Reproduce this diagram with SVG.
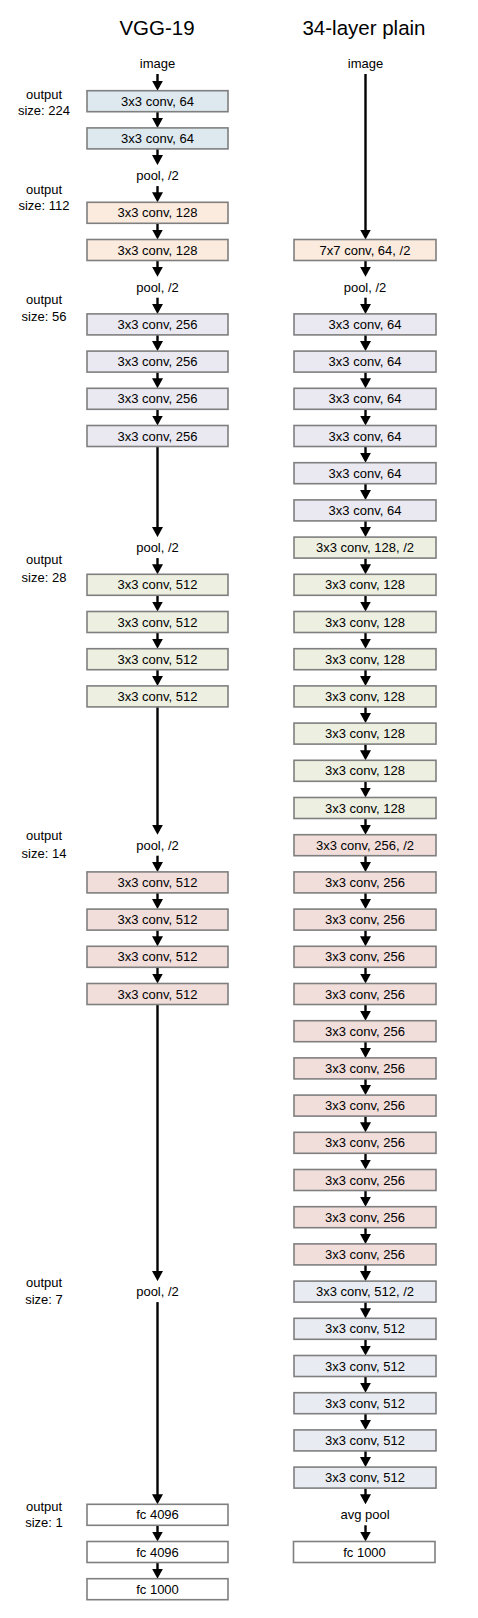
<svg xmlns="http://www.w3.org/2000/svg" width="478" height="1618" viewBox="0 0 478 1618">
<style>
text{font-family:"Liberation Sans",Arial,sans-serif;fill:#000;}
.t{font-size:13px;text-anchor:middle;}
.h{font-size:20.5px;text-anchor:middle;}
.o{font-size:13px;text-anchor:middle;}
.n rect{stroke:#7f7f7f;stroke-width:1.6;}
.b{fill:#dde9ef}.p{fill:#fbebdf}.l{fill:#eae8f0}.g{fill:#edf0e1}.r{fill:#f1dedb}.s{fill:#e8ecf2}.w{fill:#fff}
.c line{stroke:#000;stroke-width:2.4;marker-end:url(#ah);}
</style>
<defs>
<marker id="ah" markerUnits="userSpaceOnUse" viewBox="0 0 10 11" markerWidth="10" markerHeight="11" refX="2" refY="5.5" orient="auto">
<path d="M0,0 L10,5.5 L0,11 z" fill="#000"/>
</marker>
</defs>
<rect width="478" height="1618" fill="#fff"/>
<g id="titles">
<text class="h" x="157" y="35">VGG-19</text>
<text class="h" x="364" y="35">34-layer plain</text>
</g>
<g id="sizes">
<text class="o" x="44" y="98.5">output</text><text class="o" x="44" y="115.3">size: 224</text>
<text class="o" x="44" y="193.5">output</text><text class="o" x="44" y="210">size: 112</text>
<text class="o" x="44" y="304.3">output</text><text class="o" x="44" y="321">size: 56</text>
<text class="o" x="44" y="564.3">output</text><text class="o" x="44" y="581.7">size: 28</text>
<text class="o" x="44" y="840">output</text><text class="o" x="44" y="857.7">size: 14</text>
<text class="o" x="44" y="1287.3">output</text><text class="o" x="44" y="1304.3">size: 7</text>
<text class="o" x="44" y="1510.7">output</text><text class="o" x="44" y="1526.7">size: 1</text>
</g>
<g id="connectors" class="c">
<line x1="157.5" y1="74" x2="157.5" y2="82.7"/>
<line x1="157.5" y1="111.7" x2="157.5" y2="119.9"/>
<line x1="157.5" y1="148.9" x2="157.5" y2="157.1"/>
<line x1="157.5" y1="186.1" x2="157.5" y2="194.3"/>
<line x1="157.5" y1="223.3" x2="157.5" y2="231.5"/>
<line x1="157.5" y1="260.5" x2="157.5" y2="268.7"/>
<line x1="157.5" y1="297.7" x2="157.5" y2="305.9"/>
<line x1="157.5" y1="334.9" x2="157.5" y2="343.1"/>
<line x1="157.5" y1="372.1" x2="157.5" y2="380.3"/>
<line x1="157.5" y1="409.3" x2="157.5" y2="417.5"/>
<line x1="157.5" y1="446.5" x2="157.5" y2="529.1"/>
<line x1="157.5" y1="558.1" x2="157.5" y2="566.3"/>
<line x1="157.5" y1="595.3" x2="157.5" y2="603.5"/>
<line x1="157.5" y1="632.5" x2="157.5" y2="640.7"/>
<line x1="157.5" y1="669.7" x2="157.5" y2="677.9"/>
<line x1="157.5" y1="706.9" x2="157.5" y2="826.7"/>
<line x1="157.5" y1="855.7" x2="157.5" y2="863.9"/>
<line x1="157.5" y1="892.9" x2="157.5" y2="901.1"/>
<line x1="157.5" y1="930.1" x2="157.5" y2="938.3"/>
<line x1="157.5" y1="967.3" x2="157.5" y2="975.5"/>
<line x1="157.5" y1="1004.5" x2="157.5" y2="1273.1"/>
<line x1="157.5" y1="1302.1" x2="157.5" y2="1496.3"/>
<line x1="157.5" y1="1525.3" x2="157.5" y2="1533.5"/>
<line x1="157.5" y1="1562.5" x2="157.5" y2="1570.7"/>
<line x1="365.5" y1="74" x2="365.5" y2="231.5"/>
<line x1="365.5" y1="260.5" x2="365.5" y2="268.7"/>
<line x1="365.5" y1="297.7" x2="365.5" y2="305.9"/>
<line x1="365.5" y1="334.9" x2="365.5" y2="343.1"/>
<line x1="365.5" y1="372.1" x2="365.5" y2="380.3"/>
<line x1="365.5" y1="409.3" x2="365.5" y2="417.5"/>
<line x1="365.5" y1="446.5" x2="365.5" y2="454.7"/>
<line x1="365.5" y1="483.7" x2="365.5" y2="491.9"/>
<line x1="365.5" y1="520.9" x2="365.5" y2="529.1"/>
<line x1="365.5" y1="558.1" x2="365.5" y2="566.3"/>
<line x1="365.5" y1="595.3" x2="365.5" y2="603.5"/>
<line x1="365.5" y1="632.5" x2="365.5" y2="640.7"/>
<line x1="365.5" y1="669.7" x2="365.5" y2="677.9"/>
<line x1="365.5" y1="706.9" x2="365.5" y2="715.1"/>
<line x1="365.5" y1="744.1" x2="365.5" y2="752.3"/>
<line x1="365.5" y1="781.3" x2="365.5" y2="789.5"/>
<line x1="365.5" y1="818.5" x2="365.5" y2="826.7"/>
<line x1="365.5" y1="855.7" x2="365.5" y2="863.9"/>
<line x1="365.5" y1="892.9" x2="365.5" y2="901.1"/>
<line x1="365.5" y1="930.1" x2="365.5" y2="938.3"/>
<line x1="365.5" y1="967.3" x2="365.5" y2="975.5"/>
<line x1="365.5" y1="1004.5" x2="365.5" y2="1012.7"/>
<line x1="365.5" y1="1041.7" x2="365.5" y2="1049.9"/>
<line x1="365.5" y1="1078.9" x2="365.5" y2="1087.1"/>
<line x1="365.5" y1="1116.1" x2="365.5" y2="1124.3"/>
<line x1="365.5" y1="1153.3" x2="365.5" y2="1161.5"/>
<line x1="365.5" y1="1190.5" x2="365.5" y2="1198.7"/>
<line x1="365.5" y1="1227.7" x2="365.5" y2="1235.9"/>
<line x1="365.5" y1="1264.9" x2="365.5" y2="1273.1"/>
<line x1="365.5" y1="1302.1" x2="365.5" y2="1310.3"/>
<line x1="365.5" y1="1339.3" x2="365.5" y2="1347.5"/>
<line x1="365.5" y1="1376.5" x2="365.5" y2="1384.7"/>
<line x1="365.5" y1="1413.7" x2="365.5" y2="1421.9"/>
<line x1="365.5" y1="1450.9" x2="365.5" y2="1459.1"/>
<line x1="365.5" y1="1488.1" x2="365.5" y2="1496.3"/>
<line x1="365.5" y1="1525.3" x2="365.5" y2="1533.5"/>
</g>
<g id="vgg" class="n">
<g id="v-image"><text class="t" x="157.5" y="68">image</text></g>
<g id="v1"><rect class="b" x="87" y="90.7" width="141" height="21"/><text class="t" x="157.5" y="105.7">3x3 conv, 64</text></g>
<g id="v2"><rect class="b" x="87" y="127.9" width="141" height="21"/><text class="t" x="157.5" y="142.9">3x3 conv, 64</text></g>
<g id="v-pool1"><text class="t" x="157.5" y="180.1">pool, /2</text></g>
<g id="v3"><rect class="p" x="87" y="202.3" width="141" height="21"/><text class="t" x="157.5" y="217.3">3x3 conv, 128</text></g>
<g id="v4"><rect class="p" x="87" y="239.5" width="141" height="21"/><text class="t" x="157.5" y="254.5">3x3 conv, 128</text></g>
<g id="v-pool2"><text class="t" x="157.5" y="291.7">pool, /2</text></g>
<g id="v5"><rect class="l" x="87" y="313.9" width="141" height="21"/><text class="t" x="157.5" y="328.9">3x3 conv, 256</text></g>
<g id="v6"><rect class="l" x="87" y="351.1" width="141" height="21"/><text class="t" x="157.5" y="366.1">3x3 conv, 256</text></g>
<g id="v7"><rect class="l" x="87" y="388.3" width="141" height="21"/><text class="t" x="157.5" y="403.3">3x3 conv, 256</text></g>
<g id="v8"><rect class="l" x="87" y="425.5" width="141" height="21"/><text class="t" x="157.5" y="440.5">3x3 conv, 256</text></g>
<g id="v-pool3"><text class="t" x="157.5" y="552.1">pool, /2</text></g>
<g id="v9"><rect class="g" x="87" y="574.3" width="141" height="21"/><text class="t" x="157.5" y="589.3">3x3 conv, 512</text></g>
<g id="v10"><rect class="g" x="87" y="611.5" width="141" height="21"/><text class="t" x="157.5" y="626.5">3x3 conv, 512</text></g>
<g id="v11"><rect class="g" x="87" y="648.7" width="141" height="21"/><text class="t" x="157.5" y="663.7">3x3 conv, 512</text></g>
<g id="v12"><rect class="g" x="87" y="685.9" width="141" height="21"/><text class="t" x="157.5" y="700.9">3x3 conv, 512</text></g>
<g id="v-pool4"><text class="t" x="157.5" y="849.7">pool, /2</text></g>
<g id="v13"><rect class="r" x="87" y="871.9" width="141" height="21"/><text class="t" x="157.5" y="886.9">3x3 conv, 512</text></g>
<g id="v14"><rect class="r" x="87" y="909.1" width="141" height="21"/><text class="t" x="157.5" y="924.1">3x3 conv, 512</text></g>
<g id="v15"><rect class="r" x="87" y="946.3" width="141" height="21"/><text class="t" x="157.5" y="961.3">3x3 conv, 512</text></g>
<g id="v16"><rect class="r" x="87" y="983.5" width="141" height="21"/><text class="t" x="157.5" y="998.5">3x3 conv, 512</text></g>
<g id="v-pool5"><text class="t" x="157.5" y="1296.1">pool, /2</text></g>
<g id="v-fc1"><rect class="w" x="87" y="1504.3" width="141" height="21"/><text class="t" x="157.5" y="1519.3">fc 4096</text></g>
<g id="v-fc2"><rect class="w" x="87" y="1541.5" width="141" height="21"/><text class="t" x="157.5" y="1556.5">fc 4096</text></g>
<g id="v-fc3"><rect class="w" x="87" y="1578.7" width="141" height="21"/><text class="t" x="157.5" y="1593.7">fc 1000</text></g>
</g>
<g id="plain" class="n">
<g id="p-image"><text class="t" x="365.5" y="68">image</text></g>
<g id="p0"><rect class="p" x="294" y="239.5" width="142" height="21"/><text class="t" x="365" y="254.5">7x7 conv, 64, /2</text></g>
<g id="p-pool"><text class="t" x="365" y="291.7">pool, /2</text></g>
<g id="p1"><rect class="l" x="294" y="313.9" width="142" height="21"/><text class="t" x="365" y="328.9">3x3 conv, 64</text></g>
<g id="p2"><rect class="l" x="294" y="351.1" width="142" height="21"/><text class="t" x="365" y="366.1">3x3 conv, 64</text></g>
<g id="p3"><rect class="l" x="294" y="388.3" width="142" height="21"/><text class="t" x="365" y="403.3">3x3 conv, 64</text></g>
<g id="p4"><rect class="l" x="294" y="425.5" width="142" height="21"/><text class="t" x="365" y="440.5">3x3 conv, 64</text></g>
<g id="p5"><rect class="l" x="294" y="462.7" width="142" height="21"/><text class="t" x="365" y="477.7">3x3 conv, 64</text></g>
<g id="p6"><rect class="l" x="294" y="499.9" width="142" height="21"/><text class="t" x="365" y="514.9">3x3 conv, 64</text></g>
<g id="p7"><rect class="g" x="294" y="537.1" width="142" height="21"/><text class="t" x="365" y="552.1">3x3 conv, 128, /2</text></g>
<g id="p8"><rect class="g" x="294" y="574.3" width="142" height="21"/><text class="t" x="365" y="589.3">3x3 conv, 128</text></g>
<g id="p9"><rect class="g" x="294" y="611.5" width="142" height="21"/><text class="t" x="365" y="626.5">3x3 conv, 128</text></g>
<g id="p10"><rect class="g" x="294" y="648.7" width="142" height="21"/><text class="t" x="365" y="663.7">3x3 conv, 128</text></g>
<g id="p11"><rect class="g" x="294" y="685.9" width="142" height="21"/><text class="t" x="365" y="700.9">3x3 conv, 128</text></g>
<g id="p12"><rect class="g" x="294" y="723.1" width="142" height="21"/><text class="t" x="365" y="738.1">3x3 conv, 128</text></g>
<g id="p13"><rect class="g" x="294" y="760.3" width="142" height="21"/><text class="t" x="365" y="775.3">3x3 conv, 128</text></g>
<g id="p14"><rect class="g" x="294" y="797.5" width="142" height="21"/><text class="t" x="365" y="812.5">3x3 conv, 128</text></g>
<g id="p15"><rect class="r" x="294" y="834.7" width="142" height="21"/><text class="t" x="365" y="849.7">3x3 conv, 256, /2</text></g>
<g id="p16"><rect class="r" x="294" y="871.9" width="142" height="21"/><text class="t" x="365" y="886.9">3x3 conv, 256</text></g>
<g id="p17"><rect class="r" x="294" y="909.1" width="142" height="21"/><text class="t" x="365" y="924.1">3x3 conv, 256</text></g>
<g id="p18"><rect class="r" x="294" y="946.3" width="142" height="21"/><text class="t" x="365" y="961.3">3x3 conv, 256</text></g>
<g id="p19"><rect class="r" x="294" y="983.5" width="142" height="21"/><text class="t" x="365" y="998.5">3x3 conv, 256</text></g>
<g id="p20"><rect class="r" x="294" y="1020.7" width="142" height="21"/><text class="t" x="365" y="1035.7">3x3 conv, 256</text></g>
<g id="p21"><rect class="r" x="294" y="1057.9" width="142" height="21"/><text class="t" x="365" y="1072.9">3x3 conv, 256</text></g>
<g id="p22"><rect class="r" x="294" y="1095.1" width="142" height="21"/><text class="t" x="365" y="1110.1">3x3 conv, 256</text></g>
<g id="p23"><rect class="r" x="294" y="1132.3" width="142" height="21"/><text class="t" x="365" y="1147.3">3x3 conv, 256</text></g>
<g id="p24"><rect class="r" x="294" y="1169.5" width="142" height="21"/><text class="t" x="365" y="1184.5">3x3 conv, 256</text></g>
<g id="p25"><rect class="r" x="294" y="1206.7" width="142" height="21"/><text class="t" x="365" y="1221.7">3x3 conv, 256</text></g>
<g id="p26"><rect class="r" x="294" y="1243.9" width="142" height="21"/><text class="t" x="365" y="1258.9">3x3 conv, 256</text></g>
<g id="p27"><rect class="s" x="294" y="1281.1" width="142" height="21"/><text class="t" x="365" y="1296.1">3x3 conv, 512, /2</text></g>
<g id="p28"><rect class="s" x="294" y="1318.3" width="142" height="21"/><text class="t" x="365" y="1333.3">3x3 conv, 512</text></g>
<g id="p29"><rect class="s" x="294" y="1355.5" width="142" height="21"/><text class="t" x="365" y="1370.5">3x3 conv, 512</text></g>
<g id="p30"><rect class="s" x="294" y="1392.7" width="142" height="21"/><text class="t" x="365" y="1407.7">3x3 conv, 512</text></g>
<g id="p31"><rect class="s" x="294" y="1429.9" width="142" height="21"/><text class="t" x="365" y="1444.9">3x3 conv, 512</text></g>
<g id="p32"><rect class="s" x="294" y="1467.1" width="142" height="21"/><text class="t" x="365" y="1482.1">3x3 conv, 512</text></g>
<g id="p-avg"><text class="t" x="365" y="1519.3">avg pool</text></g>
<g id="p-fc"><rect class="w" x="293.5" y="1541.5" width="141.5" height="21"/><text class="t" x="364.5" y="1556.5">fc 1000</text></g>
</g>
</svg>
